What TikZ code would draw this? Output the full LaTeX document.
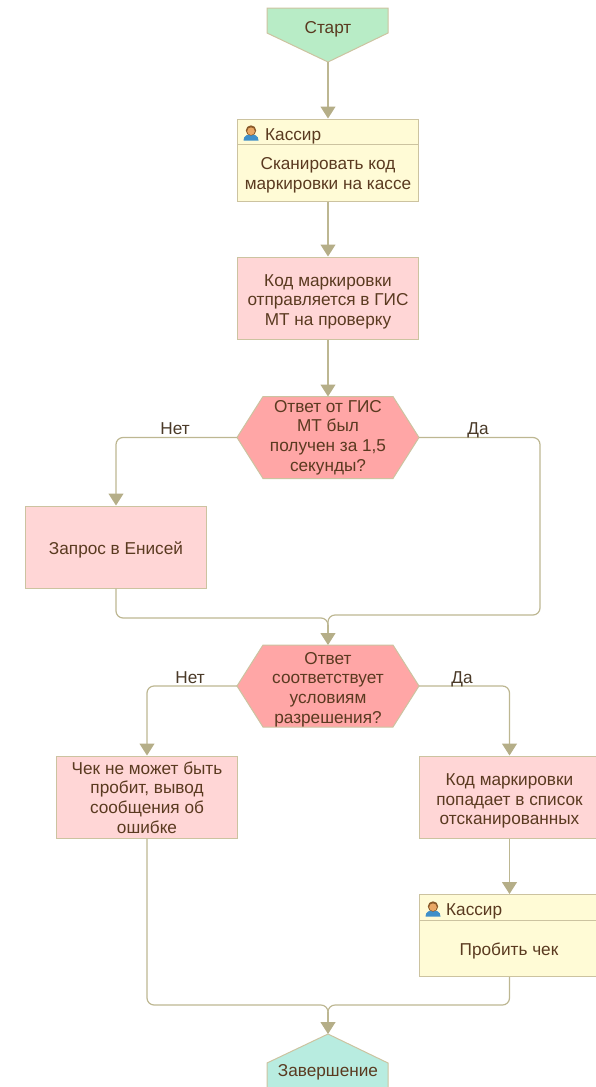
\documentclass[tikz,border=0pt]{standalone}
\usepackage{fontspec}
\setmainfont{Liberation Sans}
\usetikzlibrary{arrows.meta,calc}
\definecolor{edgec}{HTML}{BDB792}
\definecolor{tipc}{HTML}{B5AE88}
\definecolor{borderc}{HTML}{CCC3A0}
\definecolor{txtc}{HTML}{5A3A20}
\definecolor{labc}{HTML}{4A3A28}
\definecolor{yellowc}{HTML}{FFFBD6}
\definecolor{pinkc}{HTML}{FFD6D6}
\definecolor{hexc}{HTML}{FFA6A6}
\definecolor{startc}{HTML}{B8ECC6}
\definecolor{endc}{HTML}{B8ECE0}
\definecolor{iconbody}{HTML}{3E8FC9}
\definecolor{iconface}{HTML}{E9A765}
\definecolor{iconhair}{HTML}{8A5A2A}
\tikzset{
  every node/.style={font=\fontsize{17.2}{19.6}\selectfont, text=txtc, align=center, inner sep=0pt},
  boxnode/.style={draw=borderc, line width=1pt, minimum width=181pt, minimum height=82pt},
  pinkbox/.style={boxnode, fill=pinkc},
  yellowbox/.style={boxnode, fill=yellowc},
  shapeline/.style={draw=borderc, line width=1pt, line join=miter},
  conn/.style={draw=edgec, line width=1.2pt, rounded corners=7pt},
  arr/.style={conn, -{Triangle[width=15pt,length=12pt,color=tipc]}},
  lab/.style={text=labc},
  headline/.style={draw=borderc, line width=1pt},
}
\newcommand{\hexshape}[2]{%
  \path[shapeline, fill=hexc] (#1-91,#2) -- (#1-65,#2-41) -- (#1+65,#2-41) -- (#1+91,#2) -- (#1+65,#2+41) -- (#1-65,#2+41) -- cycle;}
\newcommand{\personicon}[2]{%
  \begin{scope}[shift={(#1,#2)}]
    \fill[iconbody] (-7.5,7.5) .. controls (-7.5,2) and (-3,1.5) .. (0,1.5) .. controls (3,1.5) and (7.5,2) .. (7.5,7.5) -- cycle;
    \fill[iconhair] (0,-2.5) circle (5.2);
    \fill[iconface] (0,-1.8) circle (3.8);
  \end{scope}}
\begin{document}
\begin{tikzpicture}[x=1pt,y=-1pt]
\useasboundingbox (0,0) rectangle (596,1087);
% start
\path[shapeline, fill=startc] (267,8) -- (388,8) -- (388,33) -- (328,62) -- (267,33) -- cycle;
\node (start) at (328,29) {Старт};
\coordinate (starttip) at (328,62);
% first cashier
\node[yellowbox] (cash1) at (328,160) {};
\draw[headline] (237.5,144.5) -- (418.5,144.5);
\personicon{251}{133}
\node[anchor=west] (cash1h) at (265,136) {Кассир};
\node (cash1t) at (328,175.5) {Сканировать код\\маркировки на кассе};
% sent
\node[pinkbox] (send) at (328,298) {};
\node (sendt) at (328,301.5) {Код маркировки\\отправляется в ГИС\\МТ на проверку};
% hex 1
\hexshape{328}{437.5}
\node (hexa) at (328,437.5) {Ответ от ГИС\\МТ был\\получен за 1,5\\секунды?};
% yenisei
\node[pinkbox] (yen) at (116,547) {};
\node (yent) at (116,550) {Запрос в Енисей};
% hex 2
\hexshape{328}{686}
\node (hexb) at (328,689.5) {Ответ\\соответствует\\условиям\\разрешения?};
% fail
\node[pinkbox] (fail) at (147,797) {};
\node (failt) at (147,797.5) {Чек не может быть\\пробит, вывод\\сообщения об\\ошибке};
% list
\node[pinkbox] (list) at (509.5,797) {};
\node (listt) at (509.5,801) {Код маркировки\\попадает в список\\отсканированных};
% second cashier
\node[yellowbox] (cash2) at (509.5,935.5) {};
\draw[headline] (419,920) -- (600,920);
\personicon{433}{909}
\node[anchor=west] (cash2h) at (446,911.5) {Кассир};
\node (cash2t) at (509,951) {Пробить чек};
% end
\path[shapeline, fill=endc] (267,1095) -- (267,1063) -- (328,1034) -- (388,1063) -- (388,1095) -- cycle;
\coordinate (endtip) at (328,1034);
\node (endt) at (328,1072) {Завершение};
% junctions
\coordinate (mergea) at (328,618);
\coordinate (mergeb) at (328,1005);
% connectors
\draw[arr] (starttip) -- (cash1.north);
\draw[arr] (cash1.south) -- (send.north);
\draw[arr] (send.south) -- (328,396.5);
\draw[arr] (237,437.5) -- (yen.north |- 0,437.5) -- (yen.north);
\draw[conn] (419,437.5) -- (540,437.5) -- (540,615) -- (328,615) -- (328,632);
\draw[conn] (yen.south) -- (yen.south |- mergea) -- (mergea) -- (328,632);
\draw[arr] (328,625) -- (328,645);
\draw[arr] (237,686) -- (fail.north |- 0,686) -- (fail.north);
\draw[arr] (419,686) -- (list.north |- 0,686) -- (list.north);
\draw[arr] (list.south) -- (cash2.north);
\draw[conn] (fail.south) -- (fail.south |- mergeb) -- (mergeb) -- (328,1015);
\draw[conn] (cash2.south) -- (cash2.south |- mergeb) -- (mergeb) -- (328,1015);
\draw[arr] (328,1012) -- (endtip);
% labels
\node[lab] (la) at (175,429) {Нет};
\node[lab] (lb) at (478,430) {Да};
\node[lab] (lc) at (190,678) {Нет};
\node[lab] (ld) at (462,679.5) {Да};
\end{tikzpicture}
\end{document}
